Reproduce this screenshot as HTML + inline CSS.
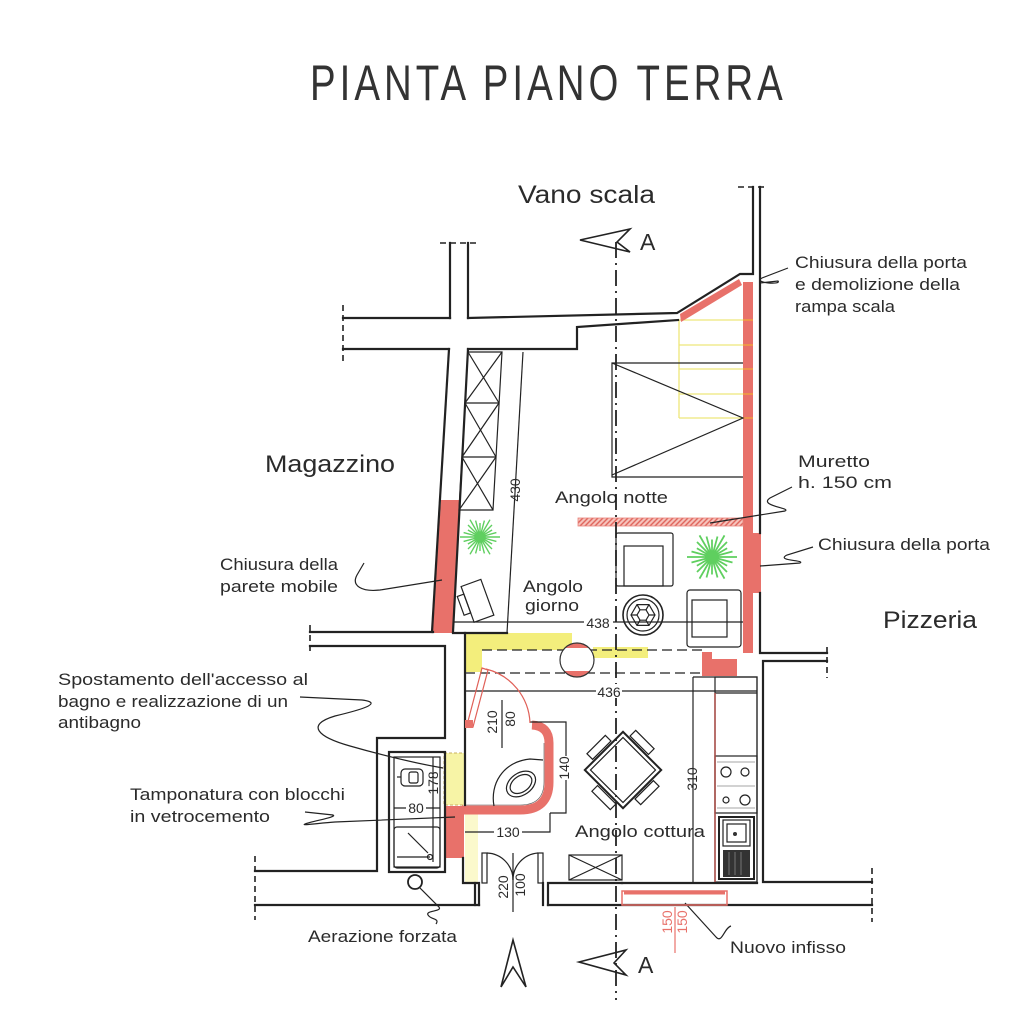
<!DOCTYPE html>
<html><head><meta charset="utf-8"><style>
html,body{margin:0;padding:0;background:#fff;}
svg{display:block;}
text{font-family:"Liberation Sans",sans-serif;fill:#2b2b2b;}
</style></head><body>
<svg width="1024" height="1015" viewBox="0 0 1024 1015" xmlns="http://www.w3.org/2000/svg">
<defs>
<clipPath id="cc"><circle cx="577" cy="660" r="17"/></clipPath>
<pattern id="hatch" width="5" height="10" patternUnits="userSpaceOnUse" patternTransform="skewX(-45)">
<rect width="5" height="10" fill="#f6c3bc"/><rect width="2" height="10" fill="#e0675e"/>
</pattern>
</defs>
<rect width="1024" height="1015" fill="#fff"/>

<!-- Titles -->
<text transform="translate(310,100) scale(0.8,1.05)" font-size="48" textLength="591" lengthAdjust="spacing" style="fill:#333">PIANTA PIANO TERRA</text>
<text x="518" y="203" font-size="25" textLength="137" lengthAdjust="spacingAndGlyphs">Vano scala</text>
<text x="265" y="472" font-size="24" textLength="130" lengthAdjust="spacingAndGlyphs">Magazzino</text>
<text x="883" y="628" font-size="24" textLength="94" lengthAdjust="spacingAndGlyphs">Pizzeria</text>

<!-- small labels -->
<g font-size="17">
<text x="795" y="268" textLength="172" lengthAdjust="spacingAndGlyphs">Chiusura della porta</text>
<text x="795" y="290" textLength="165" lengthAdjust="spacingAndGlyphs">e demolizione della</text>
<text x="795" y="312" textLength="100" lengthAdjust="spacingAndGlyphs">rampa scala</text>
<text x="798" y="467" textLength="72" lengthAdjust="spacingAndGlyphs">Muretto</text>
<text x="798" y="488" textLength="94" lengthAdjust="spacingAndGlyphs">h. 150 cm</text>
<text x="555" y="503" textLength="113" lengthAdjust="spacingAndGlyphs">Angolo notte</text>
<text x="818" y="550" textLength="172" lengthAdjust="spacingAndGlyphs">Chiusura della porta</text>
<text x="220" y="570" textLength="118" lengthAdjust="spacingAndGlyphs">Chiusura della</text>
<text x="220" y="592" textLength="118" lengthAdjust="spacingAndGlyphs">parete mobile</text>
<text x="523" y="592" textLength="60" lengthAdjust="spacingAndGlyphs">Angolo</text>
<text x="525" y="611" textLength="54" lengthAdjust="spacingAndGlyphs">giorno</text>
<text x="58" y="685" textLength="250" lengthAdjust="spacingAndGlyphs">Spostamento dell'accesso al</text>
<text x="58" y="707" textLength="230" lengthAdjust="spacingAndGlyphs">bagno e realizzazione di un</text>
<text x="58" y="728" textLength="83" lengthAdjust="spacingAndGlyphs">antibagno</text>
<text x="130" y="800" textLength="215" lengthAdjust="spacingAndGlyphs">Tamponatura con blocchi</text>
<text x="130" y="822" textLength="140" lengthAdjust="spacingAndGlyphs">in vetrocemento</text>
<text x="575" y="837" textLength="130" lengthAdjust="spacingAndGlyphs">Angolo cottura</text>
<text x="308" y="942" textLength="149" lengthAdjust="spacingAndGlyphs">Aerazione forzata</text>
<text x="730" y="953" textLength="116" lengthAdjust="spacingAndGlyphs">Nuovo infisso</text>
</g>

<!-- stairs (yellow) -->
<g stroke="#eee67a" stroke-width="1.3" fill="none">
<line x1="679" y1="320" x2="743" y2="320"/>
<line x1="679" y1="345" x2="743" y2="345"/>
<line x1="679" y1="369" x2="743" y2="369"/>
<line x1="679" y1="394" x2="743" y2="394"/>
<line x1="679" y1="418" x2="743" y2="418"/>
<line x1="679" y1="320" x2="679" y2="418"/>
</g>

<!-- red elements -->
<g fill="#e8716a">
<polygon points="680,314 739,279 742,285 681,322"/>
<rect x="743" y="282" width="10" height="371"/>
<rect x="743" y="533" width="18" height="60"/>
<polygon points="441,500 460,500 453,633 432,633"/>
<polygon points="702,652 712,652 712,659 737,659 737,676 702,676"/>
<rect x="444" y="806" width="20" height="52"/>
</g>
<g stroke="#f0a040" stroke-width="1.5">
<line x1="743" y1="320" x2="753" y2="320"/><line x1="743" y1="345" x2="753" y2="345"/>
<line x1="743" y1="369" x2="753" y2="369"/><line x1="743" y1="394" x2="753" y2="394"/>
<line x1="743" y1="418" x2="753" y2="418"/>
</g>
<rect x="578" y="518" width="165" height="8" fill="url(#hatch)" stroke="#e8837b" stroke-width="0.8"/>

<!-- yellow elements -->
<polygon points="465,633 572,633 572,650 482,650 482,672 465,672" fill="#f3ee7c"/>
<rect x="593" y="647" width="55" height="11" fill="#f3ee7c"/>
<rect x="444" y="753" width="21" height="52" fill="#f7f4a6" stroke="#c8b060" stroke-width="1" stroke-dasharray="3 2"/>
<rect x="465" y="813" width="13" height="69" fill="#fbf9cc"/>

<!-- red L shower wall -->
<path d="M462,810 L520,810 Q549,810 549,782 L549,743 Q549,726 532,725" fill="none" stroke="#e8716a" stroke-width="9"/>
<path d="M464,805 L520,805 Q544,805 544,782 L544,743" fill="none" stroke="#555" stroke-width="0.6"/>

<!-- walls -->
<g stroke="#222" stroke-width="2.2" fill="none" stroke-linecap="square">
<line x1="450" y1="243" x2="450" y2="318"/>
<line x1="468" y1="243" x2="468" y2="318"/>
<line x1="343" y1="318" x2="450" y2="318"/>
<line x1="343" y1="349" x2="449" y2="349"/>
<polyline points="468,318 677,313 740,274 753,274 753,187"/>
<polyline points="468,349 577,349 577,327 678,320"/>
<line x1="760" y1="187" x2="760" y2="533"/>
<polyline points="760,593 760,653 827,653"/>
<polyline points="827,661 763,661 763,882 872,882"/>
<line x1="449" y1="349" x2="432" y2="632"/>
<line x1="468" y1="349" x2="453" y2="632"/>
<line x1="310" y1="632" x2="433" y2="632"/>
<line x1="453" y1="633" x2="507" y2="633"/>
<polyline points="310,646 445,646 445,738 377,738 377,871 255,871"/>
<line x1="465" y1="633" x2="465" y2="805"/>
<polyline points="463,858 463,883 479,883 479,905"/>
<line x1="475" y1="883" x2="475" y2="905"/>
<polyline points="548,905 548,883 622,883"/>
<line x1="543" y1="883" x2="543" y2="905"/>
<line x1="622" y1="883" x2="757" y2="883"/>
<line x1="255" y1="905" x2="479" y2="905"/>
<line x1="548" y1="905" x2="872" y2="905"/>
<rect x="389" y="752" width="56" height="120"/>
</g>
<g stroke="#222" stroke-width="1.6" fill="none" stroke-dasharray="6 4">
<line x1="440" y1="243" x2="478" y2="243"/>
<line x1="738" y1="187" x2="768" y2="187"/>
<line x1="343" y1="305" x2="343" y2="362"/>
<line x1="310" y1="625" x2="310" y2="655"/>
<line x1="255" y1="856" x2="255" y2="920"/>
<line x1="827" y1="647" x2="827" y2="678"/>
<line x1="872" y1="868" x2="872" y2="922"/>
</g>

<!-- thin lines & furniture -->
<g stroke="#222" stroke-width="1.2" fill="none">
<polyline points="743,363 612,363 612,477 743,477"/>
<polyline points="612,363 743,418 612,475"/>
<polygon points="468,352 502,352 493,510 459,510"/>
<line x1="465" y1="403" x2="499" y2="403"/><line x1="462" y1="457" x2="496" y2="457"/>
<line x1="468" y1="352" x2="499" y2="403"/><line x1="502" y1="352" x2="465" y2="403"/>
<line x1="465" y1="403" x2="496" y2="457"/><line x1="499" y1="403" x2="462" y2="457"/>
<line x1="462" y1="457" x2="493" y2="510"/><line x1="496" y1="457" x2="459" y2="510"/>
<line x1="523" y1="352" x2="507" y2="633"/>
<line x1="453" y1="622" x2="743" y2="622"/>
<line x1="465" y1="691" x2="757" y2="691"/>
<rect x="616" y="533" width="57" height="53" rx="2"/>
<rect x="624" y="546" width="39" height="40"/>
<rect x="687" y="590" width="54" height="57" rx="3"/>
<rect x="692" y="600" width="35" height="37"/>
<g transform="rotate(-20 477 601)"><rect x="467" y="582" width="21" height="38"/><rect x="460" y="590" width="7" height="20"/></g>
<circle cx="643" cy="615" r="20" stroke-width="1.6"/>
<circle cx="643" cy="615" r="16"/>
<polygon points="655,615 649,625.4 637,625.4 631,615 637,604.6 649,604.6"/>
<polygon points="649,615 646,620.2 640,620.2 637,615 640,609.8 646,609.8"/>
<path d="M655,615L649,615M649,625.4L646,620.2M637,625.4L640,620.2M631,615L637,615M637,604.6L640,609.8M649,604.6L646,609.8"/>
<line x1="482" y1="650" x2="702" y2="650" stroke-dasharray="10 5"/>
<line x1="465" y1="673" x2="702" y2="673" stroke-dasharray="10 5"/>
<polyline points="693,677 757,677 757,883"/>
<rect x="715" y="677" width="42" height="205"/>
<line x1="715" y1="693" x2="757" y2="693"/>
<line x1="693" y1="677" x2="693" y2="882"/>
<rect x="715" y="756" width="42" height="57"/>
<circle cx="726" cy="772" r="5"/><circle cx="745" cy="772" r="4"/>
<circle cx="726" cy="800" r="3"/><circle cx="745" cy="800" r="5"/>
<rect x="719" y="817" width="35" height="62" stroke-width="2"/>
<rect x="723" y="820" width="27" height="26"/>
<rect x="727" y="824" width="19" height="18"/>
<g transform="rotate(45 623 770)">
<rect x="596" y="743" width="54" height="54" stroke-width="2"/>
<rect x="600" y="747" width="46" height="46"/>
<rect x="604" y="733" width="26" height="8"/>
<rect x="616" y="799" width="26" height="8"/>
<rect x="586" y="758" width="8" height="26"/>
<rect x="652" y="756" width="8" height="26"/>
</g>
<rect x="394" y="757" width="46" height="110"/>
<rect x="401" y="769" width="22" height="17" rx="4"/>
<rect x="409" y="772" width="9" height="11" rx="2"/>
<line x1="397" y1="777" x2="401" y2="777"/>
<rect x="394" y="827" width="46" height="41" rx="3"/>
<line x1="408" y1="833" x2="428" y2="853"/>
<line x1="397" y1="857" x2="430" y2="857"/>
<circle cx="430" cy="857" r="2.5"/>
<line x1="433" y1="757" x2="433" y2="862"/>
<line x1="394" y1="808" x2="440" y2="808"/>
<circle cx="415" cy="882" r="7" stroke-width="1.8"/>
<path d="M494,806 C490,785 502,762 530,759 L543,760"/>
<ellipse cx="521" cy="784" rx="16" ry="11" transform="rotate(-35 521 784)"/>
<ellipse cx="521" cy="784" rx="12" ry="8" transform="rotate(-35 521 784)"/>
<line x1="502" y1="700" x2="502" y2="748"/>
<polyline points="530,722 566,722 566,813 550,813"/>
<polyline points="465,832 550,832 550,813"/>
<line x1="513" y1="853" x2="513" y2="912"/>
<rect x="482" y="853" width="5" height="30"/>
<rect x="538" y="853" width="5" height="30"/>
<path d="M487,853 A27,27 0 0 1 513,880"/>
<path d="M538,853 A27,27 0 0 0 513,880"/>
<rect x="569" y="855" width="53" height="25"/>
<line x1="569" y1="855" x2="622" y2="880"/><line x1="622" y1="855" x2="569" y2="880"/>
<polygon points="580,240 630,229 617,242 630,252" stroke-width="1.6"/>
<polygon points="579,962 626,950 614,963 626,975" stroke-width="1.6"/>
<polygon points="513,940 526,987 513,967 501,987" stroke-width="1.6"/>
<path d="M788,268 L762,278 C752,283 782,285 778,281 L760,283"/>
<path d="M792,487 L770,498 C758,506 792,508 785,511 L710,523"/>
<path d="M813,547 L787,555 C775,561 806,560 800,563 L760,566"/>
<path d="M364,563 L357,575 C351,586 362,592 380,590 L442,580"/>
<path d="M300,697 L362,700 C385,703 360,710 335,716 C305,725 318,737 350,746 C385,756 420,764 443,768"/>
<path d="M305,812 L333,815 C338,817 312,821 305,824 C300,826 320,823 335,822 L455,817"/>
<path d="M420,888 L438,906 C445,912 425,910 428,915 C431,920 440,918 436,924"/>
<path d="M685,903 L716,937 C722,944 724,928 731,926"/>
</g>

<rect x="723" y="850" width="27" height="27" fill="#333"/>
<g stroke="#888" stroke-width="0.8">
<line x1="729" y1="852" x2="729" y2="875"/><line x1="735" y1="852" x2="735" y2="875"/><line x1="741" y1="852" x2="741" y2="875"/>
<line x1="717" y1="762" x2="755" y2="762"/><line x1="717" y1="786" x2="755" y2="786"/><line x1="717" y1="808" x2="755" y2="808"/>
</g>
<circle cx="735" cy="834" r="2" fill="#333"/>
<line x1="715" y1="693" x2="715" y2="882" stroke="#b0504a" stroke-width="1.5"/>

<circle cx="577" cy="660" r="17" fill="#fff"/>
<g clip-path="url(#cc)" fill="#e8716a"><rect x="558" y="640" width="40" height="8"/><rect x="558" y="671" width="40" height="8"/></g>
<circle cx="577" cy="660" r="17" fill="none" stroke="#333" stroke-width="1.2"/>

<g stroke="#e06058" fill="none" stroke-width="1.2">
<polygon points="482,668 488,670 473,727 467,725"/>
<path d="M486,669 A58,58 0 0 1 530,723"/>
</g>
<rect x="465" y="720" width="8" height="8" fill="#e8716a"/>

<g stroke="#e8716a" fill="none">
<rect x="622" y="891" width="105" height="14" stroke-width="1.5"/>
<line x1="624" y1="893" x2="725" y2="893" stroke-width="3"/>
<line x1="675" y1="907" x2="675" y2="953" stroke-width="1.2"/>
</g>

<g stroke="#5fcf5f" stroke-width="1.4" fill="none">
<g transform="translate(480,537)"><path d="M0 0L20 0M0 0L12.1 7M0 0L10 17.3M0 0L0 14M0 0L-10 17.3M0 0L-12.1 7M0 0L-20 0M0 0L-12.1 -7M0 0L-10 -17.3M0 0L0 -14M0 0L10 -17.3M0 0L12.1 -7M0 0L16.4 4.4M0 0L12 12M0 0L4.4 16.4M0 0L-4.4 16.4M0 0L-12 12M0 0L-16.4 4.4M0 0L-16.4 -4.4M0 0L-12 -12M0 0L-4.4 -16.4M0 0L4.4 -16.4M0 0L12 -12M0 0L16.4 -4.4"/></g>
<g transform="translate(712,557) scale(1.25)"><path d="M0 0L20 0M0 0L12.1 7M0 0L10 17.3M0 0L0 14M0 0L-10 17.3M0 0L-12.1 7M0 0L-20 0M0 0L-12.1 -7M0 0L-10 -17.3M0 0L0 -14M0 0L10 -17.3M0 0L12.1 -7M0 0L16.4 4.4M0 0L12 12M0 0L4.4 16.4M0 0L-4.4 16.4M0 0L-12 12M0 0L-16.4 4.4M0 0L-16.4 -4.4M0 0L-12 -12M0 0L-4.4 -16.4M0 0L4.4 -16.4M0 0L12 -12M0 0L16.4 -4.4"/></g>
</g>

<line x1="616" y1="242" x2="616" y2="1000" stroke="#222" stroke-width="1.8" stroke-dasharray="16 5 2 5"/>

<rect x="584" y="614" width="29" height="15" fill="#fff"/>
<rect x="596" y="684" width="26" height="14" fill="#fff"/>
<rect x="406" y="801" width="20" height="14" fill="#fff"/>
<rect x="494" y="825" width="28" height="14" fill="#fff"/>
<rect x="559" y="756" width="14" height="24" fill="#fff"/>
<g font-size="14" text-anchor="middle">
<text x="598" y="628">438</text>
<text x="609" y="697">436</text>
<text x="416" y="813">80</text>
<text x="508" y="837">130</text>
<text transform="translate(520,490) rotate(-90)">430</text>
<text transform="translate(697,779) rotate(-90)">310</text>
<text transform="translate(497,722) rotate(-90)">210</text>
<text transform="translate(515,719) rotate(-90)">80</text>
<text transform="translate(569,768) rotate(-90)">140</text>
<text transform="translate(438,783) rotate(-90)">178</text>
<text transform="translate(508,887) rotate(-90)">220</text>
<text transform="translate(525,885) rotate(-90)">100</text>
<text transform="translate(672,922) rotate(-90)" style="fill:#e8716a">150</text>
<text transform="translate(687,922) rotate(-90)" style="fill:#e8716a">150</text>
</g>
<text x="640" y="250" font-size="23">A</text>
<text x="638" y="973" font-size="23">A</text>
</svg>
</body></html>
